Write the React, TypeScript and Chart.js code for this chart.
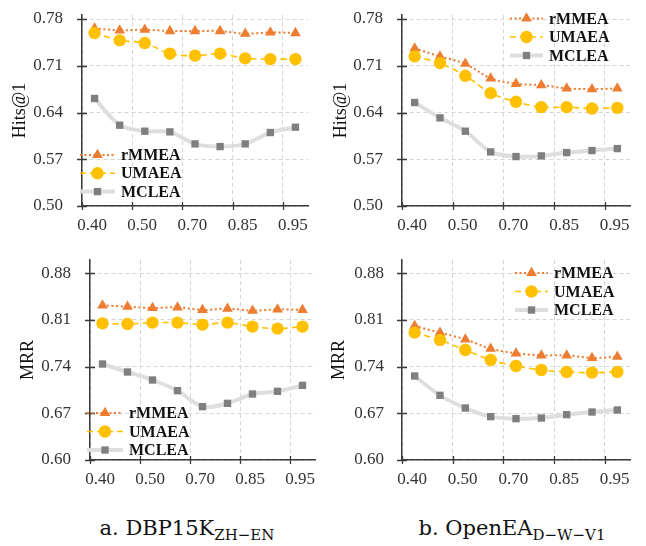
import React, { useEffect, useRef } from 'react';
import { Chart, registerables } from 'chart.js';

Chart.register(...registerables);

// ---------- data ----------
const seriesNames = ['rMMEA', 'UMAEA', 'MCLEA'];
const ratioIndex = [0, 1, 2, 3, 4, 5, 6, 7, 8];
const xTickLabels = ['0.40', '0.50', '0.70', '0.85', '0.95'];
const xTickIndex = [-0.5, 1.5, 3.5, 5.5, 7.5];
const hitsTicks = [0.5, 0.57, 0.64, 0.71, 0.78];
const mrrTicks = [0.6, 0.67, 0.74, 0.81, 0.88];

const dbpHitsRMMEA = [0.766, 0.763, 0.764, 0.762, 0.762, 0.762, 0.758, 0.760, 0.759];
const dbpHitsUMAEA = [0.759, 0.748, 0.744, 0.728, 0.725, 0.728, 0.721, 0.720, 0.720];
const dbpHitsMCLEA = [0.661, 0.621, 0.612, 0.611, 0.593, 0.589, 0.593, 0.610, 0.618];

const openHitsRMMEA = [0.736, 0.724, 0.713, 0.691, 0.683, 0.681, 0.676, 0.675, 0.676];
const openHitsUMAEA = [0.724, 0.714, 0.695, 0.669, 0.656, 0.648, 0.648, 0.646, 0.647];
const openHitsMCLEA = [0.655, 0.632, 0.612, 0.581, 0.574, 0.575, 0.580, 0.583, 0.586];

const dbpMrrRMMEA = [0.832, 0.830, 0.828, 0.829, 0.825, 0.827, 0.824, 0.826, 0.825];
const dbpMrrUMAEA = [0.805, 0.804, 0.806, 0.806, 0.803, 0.806, 0.800, 0.797, 0.800];
const dbpMrrMCLEA = [0.744, 0.732, 0.720, 0.704, 0.680, 0.685, 0.699, 0.703, 0.712];

const openMrrRMMEA = [0.801, 0.791, 0.781, 0.767, 0.760, 0.757, 0.757, 0.753, 0.755];
const openMrrUMAEA = [0.791, 0.780, 0.765, 0.750, 0.741, 0.735, 0.732, 0.731, 0.732];
const openMrrMCLEA = [0.726, 0.697, 0.678, 0.665, 0.662, 0.663, 0.668, 0.672, 0.675];

// ---------- styles ----------
const SERIF = '"Liberation Serif", "Times New Roman", serif';
const AXIS_COLOR = '#3a3a3a';
const GRID_COLOR = '#d6d6d6';
const TEXT_COLOR = '#333333';

const seriesStyles = [
  { color: '#ED7D31', width: 2, dash: [2, 2.5], point: 'triangle', radius: 6.2, pointColor: '#ED7D31', order: 2 },
  { color: '#FFC000', width: 1.6, dash: [6, 4], point: 'circle', radius: 6.2, pointColor: '#FFC000', order: 1 },
  { color: '#DEDEDE', width: 4, dash: [], point: 'rect', radius: 5.2, pointColor: '#7F7F7F', order: 3 },
];

function drawMarker(ctx: CanvasRenderingContext2D, style: string, x: number, y: number, r: number, color: string) {
  ctx.save();
  ctx.fillStyle = color;
  ctx.beginPath();
  if (style === 'triangle') {
    for (let k = 0; k < 3; k++) {
      const a = (k * 2 * Math.PI) / 3;
      const px = x + Math.sin(a) * r;
      const py = y - Math.cos(a) * r;
      if (k === 0) ctx.moveTo(px, py);
      else ctx.lineTo(px, py);
    }
    ctx.closePath();
  } else if (style === 'circle') {
    ctx.arc(x, y, r, 0, Math.PI * 2);
  } else {
    const s = r * Math.SQRT1_2;
    ctx.rect(x - s, y - s, 2 * s, 2 * s);
  }
  ctx.fill();
  ctx.restore();
}

const decorPlugin = {
  id: 'decor',
  afterDraw(chart: any, _args: any, opts: any) {
    const ctx: CanvasRenderingContext2D = chart.ctx;
    const xs = chart.scales.x;
    const ys = chart.scales.y;
    const area = chart.chartArea;
    ctx.save();
    ctx.strokeStyle = AXIS_COLOR;
    ctx.lineWidth = 1.3;
    ctx.setLineDash([]);
    ctx.beginPath();
    xs.ticks.forEach((t: any) => {
      const px = Math.round(xs.getPixelForValue(t.value)) + 0.5;
      ctx.moveTo(px, area.bottom - 4);
      ctx.lineTo(px, area.bottom + 4);
    });
    ys.ticks.forEach((t: any) => {
      const py = Math.round(ys.getPixelForValue(t.value)) + 0.5;
      ctx.moveTo(area.left - 5, py);
      ctx.lineTo(area.left + 5, py);
    });
    ctx.stroke();

    const { x, y, gap, lineLen } = opts;
    chart.data.datasets.forEach((ds: any, i: number) => {
      const cy = y + i * gap;
      ctx.save();
      ctx.strokeStyle = ds.borderColor;
      ctx.lineWidth = ds.borderWidth;
      ctx.setLineDash(ds.borderDash || []);
      ctx.beginPath();
      ctx.moveTo(x, cy);
      ctx.lineTo(x + lineLen, cy);
      ctx.stroke();
      ctx.restore();
      drawMarker(ctx, ds.pointStyle, x + lineLen / 2, cy, ds.pointRadius, ds.pointBackgroundColor);
      ctx.fillStyle = '#111111';
      ctx.font = `bold 16px ${SERIF}`;
      ctx.textBaseline = 'middle';
      ctx.textAlign = 'left';
      ctx.fillText(ds.label, x + lineLen + 6, cy + 1);
    });
    ctx.restore();
  },
};

type Panel = {
  left: number;
  top: number;
  width: number;
  height: number;
  padTop: number;
  padRight: number;
  axisW: number;
  xAxisH: number;
  yTitle: string;
  yTicks: number[];
  yMin: number;
  yMax: number;
  titlePad: number;
  labelPad: number;
  legend: { x: number; y: number; gap: number; lineLen: number };
  series: number[][];
};

const panels: Panel[] = [
  {
    left: 0, top: 0, width: 323, height: 250, padTop: 15, padRight: 15, axisW: 82, xAxisH: 44,
    yTitle: 'Hits@1', yTicks: hitsTicks, yMin: 0.5, yMax: 0.786, titlePad: 9, labelPad: 19,
    legend: { x: 80, y: 155, gap: 18.3, lineLen: 35 },
    series: [dbpHitsRMMEA, dbpHitsUMAEA, dbpHitsMCLEA],
  },
  {
    left: 323, top: 0, width: 323, height: 250, padTop: 15, padRight: 16, axisW: 79, xAxisH: 44,
    yTitle: 'Hits@1', yTicks: hitsTicks, yMin: 0.5, yMax: 0.786, titlePad: 7, labelPad: 19,
    legend: { x: 187, y: 18.5, gap: 18.5, lineLen: 33 },
    series: [openHitsRMMEA, openHitsUMAEA, openHitsMCLEA],
  },
  {
    left: 0, top: 250, width: 323, height: 250, padTop: 10, padRight: 8, axisW: 90, xAxisH: 40,
    yTitle: 'MRR', yTicks: mrrTicks, yMin: 0.6, yMax: 0.9, titlePad: 17, labelPad: 19,
    legend: { x: 87, y: 163, gap: 18.5, lineLen: 36 },
    series: [dbpMrrRMMEA, dbpMrrUMAEA, dbpMrrMCLEA],
  },
  {
    left: 323, top: 250, width: 323, height: 250, padTop: 10, padRight: 16, axisW: 79, xAxisH: 40,
    yTitle: 'MRR', yTicks: mrrTicks, yMin: 0.6, yMax: 0.9, titlePad: 5, labelPad: 18,
    legend: { x: 192, y: 23, gap: 18.5, lineLen: 33 },
    series: [openMrrRMMEA, openMrrUMAEA, openMrrMCLEA],
  },
];

function PanelChart({ p }: { p: Panel }) {
  const ref = useRef<HTMLCanvasElement | null>(null);
  useEffect(() => {
    if (!ref.current) return;
    const datasets = p.series.map((vals, si) => {
      const st = seriesStyles[si];
      return {
        label: seriesNames[si],
        data: vals.map((v, i) => ({ x: ratioIndex[i], y: v })),
        borderColor: st.color,
        backgroundColor: st.color,
        borderWidth: st.width,
        borderDash: st.dash,
        pointStyle: st.point,
        pointRadius: st.radius,
        pointHoverRadius: st.radius,
        pointBackgroundColor: st.pointColor,
        pointBorderColor: st.pointColor,
        pointBorderWidth: 0,
        tension: 0.3,
        fill: false,
        order: st.order,
      };
    });
    const tickFont = { family: SERIF, size: 17 };
    const chart = new Chart(ref.current, {
      type: 'line',
      data: { datasets },
      plugins: [decorPlugin],
      options: {
        animation: false,
        responsive: false,
        maintainAspectRatio: false,
        devicePixelRatio: 1,
        layout: { padding: { top: p.padTop, right: p.padRight, left: 0, bottom: 0 } },
        plugins: {
          legend: { display: false },
          tooltip: { enabled: false },
          decor: p.legend,
        } as any,
        scales: {
          x: {
            type: 'linear',
            min: -0.5,
            max: 8.5,
            afterBuildTicks: (s: any) => {
              s.ticks = xTickIndex.map((v) => ({ value: v }));
            },
            afterFit: (s: any) => {
              s.height = p.xAxisH;
              s.paddingLeft = 0;
              s.paddingRight = 0;
            },
            ticks: {
              autoSkip: false,
              maxRotation: 0,
              labelOffset: 10,
              padding: 9,
              color: TEXT_COLOR,
              font: tickFont,
              callback: (_v: any, i: number) => xTickLabels[i],
            },
            grid: { color: GRID_COLOR, lineWidth: 1, drawTicks: false },
            border: { color: AXIS_COLOR, width: 1.5, dash: [4, 3] },
          },
          y: {
            type: 'linear',
            min: p.yMin,
            max: p.yMax,
            afterBuildTicks: (s: any) => {
              s.ticks = p.yTicks.map((v) => ({ value: v }));
            },
            afterFit: (s: any) => {
              s.width = p.axisW;
              s.paddingTop = 0;
              s.paddingBottom = 0;
            },
            ticks: {
              padding: p.labelPad,
              color: TEXT_COLOR,
              font: tickFont,
              callback: (v: any) => Number(v).toFixed(2),
            },
            title: {
              display: true,
              text: p.yTitle,
              color: '#111111',
              font: { family: SERIF, size: 18 },
              padding: { top: p.titlePad, bottom: 0 },
            },
            grid: { color: GRID_COLOR, lineWidth: 1, drawTicks: false },
            border: { color: AXIS_COLOR, width: 1.5, dash: [4, 3] },
          },
        },
      } as any,
    });
    return () => chart.destroy();
  }, [p]);
  return (
    <canvas
      ref={ref}
      width={p.width}
      height={p.height}
      style={{ position: 'absolute', left: p.left, top: p.top, width: p.width, height: p.height }}
    />
  );
}

const captionStyle: React.CSSProperties = {
  position: 'absolute',
  top: 516,
  width: 300,
  textAlign: 'center',
  fontFamily: '"DejaVu Serif", serif',
  fontSize: 21,
  lineHeight: '24px',
  color: '#111111',
  whiteSpace: 'nowrap',
};
const subStyle: React.CSSProperties = { fontSize: 15, verticalAlign: -5, lineHeight: '0px' };

export default function App() {
  return (
    <div style={{ position: 'absolute', left: 0, top: 0, width: 646, height: 546, background: '#ffffff', overflow: 'hidden' }}>
      {panels.map((p, i) => (
        <PanelChart key={i} p={p} />
      ))}
      <div style={{ ...captionStyle, left: 187 - 150 }}>
        a. DBP15K<span style={subStyle}>ZH−EN</span>
      </div>
      <div style={{ ...captionStyle, left: 512 - 150 }}>
        b. OpenEA<span style={subStyle}>D−W−V1</span>
      </div>
    </div>
  );
}
